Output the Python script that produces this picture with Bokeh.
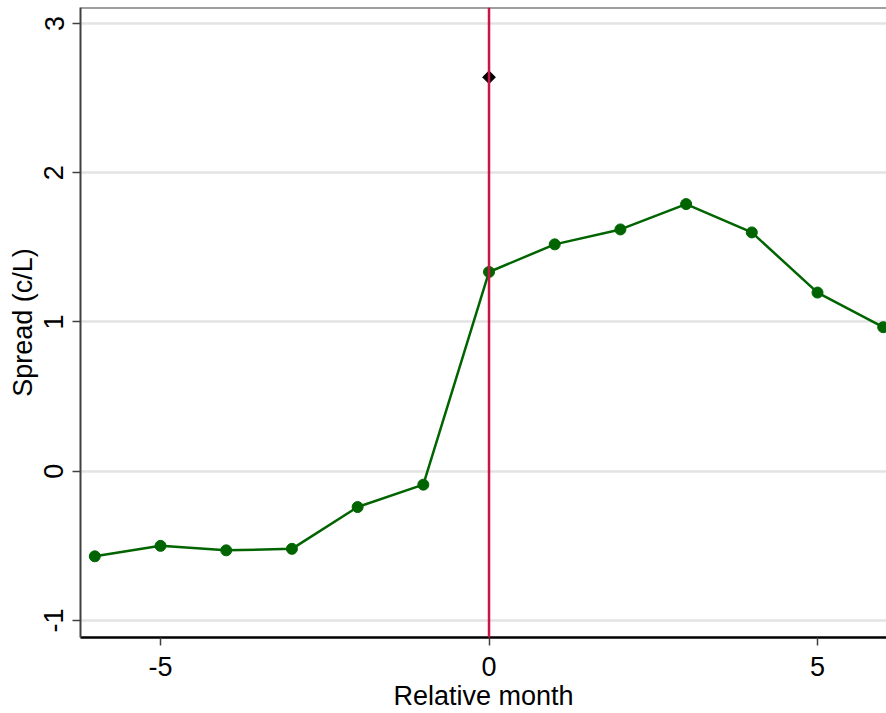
import math
from bokeh.plotting import figure
from bokeh.models import Range1d, Span, FixedTicker
from bokeh.embed import file_html
from bokeh.resources import INLINE

months = [-6, -5, -4, -3, -2, -1, 0, 1, 2, 3, 4, 5, 6]
spread = [-0.57, -0.50, -0.53, -0.52, -0.24, -0.09, 1.335, 1.52, 1.62, 1.79, 1.60, 1.197, 0.965]
event_x = [0]
event_y = [2.64]
x_ticks = [-5, 0, 5]
x_tick_labels = ["-5", "0", "5"]
y_ticks = [-1, 0, 1, 2, 3]
y_tick_labels = ["-1", "0", "1", "2", "3"]

FONT = "Liberation Sans"

p = figure(width=886, height=713, output_backend="svg", toolbar_location=None,
           x_range=Range1d(-6.218, 6.05), y_range=Range1d(-1.114, 3.107),
           min_border_left=80, min_border_right=0, min_border_top=7, min_border_bottom=76)
p.outline_line_color = None
p.background_fill_color = "white"
p.border_fill_color = "white"

# grid
p.xgrid.visible = False
p.ygrid.grid_line_color = "#e3e3e3"
p.ygrid.grid_line_width = 2.5
p.ygrid.ticker = FixedTicker(ticks=y_ticks)

# top frame line
p.add_layout(Span(location=3.107, dimension="width", line_color="#404040", line_width=2))

# axes
p.xaxis.ticker = FixedTicker(ticks=x_ticks)
p.yaxis.ticker = FixedTicker(ticks=y_ticks)
p.xaxis.major_label_overrides = {t: s for t, s in zip(x_ticks, x_tick_labels)}
p.yaxis.major_label_overrides = {t: s for t, s in zip(y_ticks, y_tick_labels)}
p.xaxis.axis_label = "Relative month"
p.yaxis.axis_label = "Spread (c/L)"
for ax in (p.xaxis[0], p.yaxis[0]):
    ax.major_label_text_font = FONT
    ax.major_label_text_font_size = "27px"
    ax.major_label_text_color = "black"
    ax.axis_label_text_font = FONT
    ax.axis_label_text_font_size = "27px"
    ax.axis_label_text_font_style = "normal"
    ax.axis_label_text_color = "black"
    ax.major_tick_out = 8
    ax.major_tick_in = 0
    ax.minor_tick_line_color = None
    ax.major_tick_line_color = "#404040"
    ax.major_tick_line_width = 1.5
p.xaxis.axis_line_color = "black"
p.xaxis.axis_line_width = 2.5
p.yaxis.axis_line_color = "#404040"
p.yaxis.axis_line_width = 2
p.yaxis.major_label_orientation = "vertical"
p.xaxis.major_label_standoff = 11
p.yaxis.major_label_standoff = 9
p.xaxis.axis_label_standoff = 2
p.yaxis.axis_label_standoff = 4

# vertical event line
p.add_layout(Span(location=0, dimension="height", line_color="#c81446", line_width=2.5))

p.line(months, spread, line_color="#006400", line_width=2.5)
p.scatter(months, spread, size=11, marker="circle", fill_color="#006400", line_color="#006400")
p.scatter(event_x, event_y, size=9, marker="square", angle=math.pi / 4,
          fill_color="black", line_color="black")

open("out.html", "w").write(file_html(p, INLINE))
